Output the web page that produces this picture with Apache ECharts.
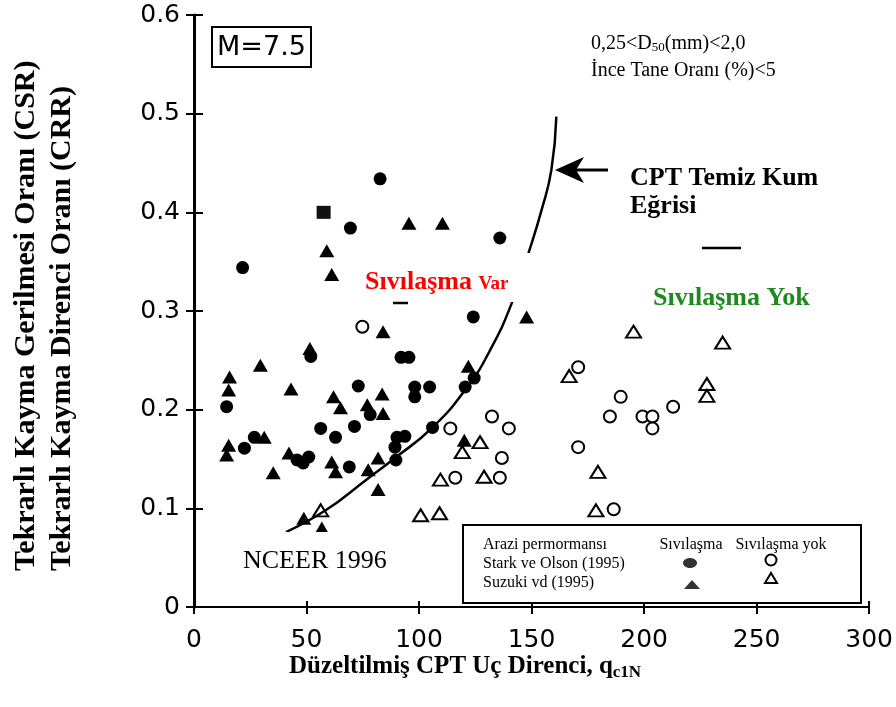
<!DOCTYPE html>
<html>
<head>
<meta charset="utf-8">
<script src="https://cdn.jsdelivr.net/npm/echarts@6/dist/echarts.min.js"></script>
<style>
  html, body { margin: 0; padding: 0; background: #fff; }
  #chart { width: 896px; height: 707px; }
</style>
</head>
<body>
<div id="chart"></div>
<script>
// Axis ticks
const xTicks = [0, 50, 100, 150, 200, 250, 300];
const yTickLabels = ['0', '0.1', '0.2', '0.3', '0.4', '0.5', '0.6'];

// Field performance: [q_c1N, CSR]
const starkLiquefied = [
  [82.7, 0.434], [69.5, 0.384], [135.9, 0.374], [21.6, 0.344], [124.1, 0.294],
  [51.9, 0.254], [92.0, 0.253], [95.5, 0.253], [14.5, 0.203], [73.0, 0.224],
  [98.1, 0.223], [104.7, 0.223], [98.1, 0.213], [78.3, 0.195], [56.3, 0.181],
  [62.9, 0.172], [71.3, 0.183], [124.5, 0.232], [120.5, 0.223], [106.0, 0.182],
  [90.2, 0.172], [93.7, 0.173], [89.3, 0.162], [89.7, 0.149], [69.0, 0.142],
  [45.8, 0.149], [51.0, 0.152], [48.5, 0.146], [22.4, 0.161], [26.8, 0.172]
];
const starkLiquefiedStacked = [[57.6, 0.400]];
const suzukiLiquefied = [
  [95.5, 0.389], [110.4, 0.389], [59.0, 0.361], [61.2, 0.337], [147.8, 0.294],
  [84.0, 0.279], [51.5, 0.262], [29.5, 0.245], [15.8, 0.233], [15.4, 0.220],
  [43.1, 0.221], [62.0, 0.213], [65.1, 0.202], [83.6, 0.216], [77.0, 0.205],
  [84.0, 0.196], [121.9, 0.244], [81.8, 0.151], [77.4, 0.139], [81.8, 0.119],
  [61.2, 0.147], [62.9, 0.137], [42.2, 0.156], [35.2, 0.136], [15.4, 0.164],
  [14.5, 0.154], [31.2, 0.172], [48.8, 0.090], [56.8, 0.080], [120.1, 0.169]
];
const starkNonLiquefied = [
  [74.8, 0.284], [132.4, 0.193], [139.9, 0.181], [113.9, 0.181], [136.8, 0.151],
  [116.1, 0.131], [135.9, 0.131], [170.7, 0.243], [189.6, 0.213], [184.8, 0.193],
  [199.3, 0.193], [203.7, 0.193], [203.7, 0.181], [212.9, 0.203], [170.7, 0.162],
  [186.5, 0.099]
];
const suzukiNonLiquefied = [
  [195.3, 0.279], [234.9, 0.268], [166.7, 0.234], [227.9, 0.226], [227.9, 0.214],
  [179.5, 0.137], [178.6, 0.098], [127.1, 0.167], [119.2, 0.157], [109.5, 0.129],
  [128.9, 0.132], [100.7, 0.093], [109.1, 0.095], [56.3, 0.098]
];

// CPT clean-sand base curve (NCEER 1996)
const nceerCurve = [
  [40.9, 0.076], [58.5, 0.098], [76.6, 0.129], [89.3, 0.151], [106.0, 0.182],
  [121.4, 0.223], [131.5, 0.260], [141.2, 0.308], [149.1, 0.362], [154.4, 0.402],
  [158.8, 0.443], [161.0, 0.497]
];

const chart = echarts.init(document.getElementById('chart'), null, { renderer: 'canvas' });

const SERIF = '"Liberation Serif", "Times New Roman", serif';
const SANS = '"DejaVu Sans", sans-serif';

const baseAxisX = { type: 'value', min: 0, max: 300, interval: 50, gridIndex: 0 };
const baseAxisY = { type: 'value', min: 0, max: 0.6, interval: 0.1, gridIndex: 0 };

const option = {
  backgroundColor: '#fff',
  animation: false,
  grid: { left: 194, right: 21, top: 15, bottom: 100 },
  xAxis: [
    Object.assign({}, baseAxisX, {
      position: 'bottom',
      axisLine: { lineStyle: { color: '#000', width: 2 } },
      axisTick: { show: true, length: 7, lineStyle: { color: '#000', width: 2 } },
      axisLabel: {
        color: '#000', fontFamily: SANS, fontSize: 25, margin: 21,
        customValues: xTicks,
        formatter: v => String(v)
      },
      splitLine: { show: false }
    }),
    Object.assign({}, baseAxisX, {
      position: 'bottom',
      axisLine: { show: false },
      axisTick: { show: true, inside: true, length: 6, lineStyle: { color: '#000', width: 2 } },
      axisLabel: { show: false },
      splitLine: { show: false }
    }),
    Object.assign({}, baseAxisX, {
      position: 'top',
      axisLine: { lineStyle: { color: '#000', width: 2 } },
      axisTick: { show: false },
      axisLabel: { show: false },
      splitLine: { show: false }
    })
  ],
  yAxis: [
    Object.assign({}, baseAxisY, {
      position: 'left',
      axisLine: { lineStyle: { color: '#000', width: 2 } },
      axisTick: { show: true, length: 8, lineStyle: { color: '#000', width: 2 } },
      axisLabel: {
        color: '#000', fontFamily: SANS, fontSize: 25, margin: 14,
        formatter: v => yTickLabels[Math.round(v * 10)]
      },
      splitLine: { show: false }
    }),
    Object.assign({}, baseAxisY, {
      position: 'left',
      axisLine: { show: false },
      axisTick: { show: true, inside: true, length: 9, lineStyle: { color: '#000', width: 2 } },
      axisLabel: { show: false },
      splitLine: { show: false }
    }),
    Object.assign({}, baseAxisY, {
      position: 'right',
      axisLine: { lineStyle: { color: '#000', width: 3 } },
      axisTick: { show: false },
      axisLabel: { show: false },
      splitLine: { show: false }
    })
  ],
  series: [
    {
      name: 'Stark ve Olson (1995) Sıvılaşma',
      type: 'scatter', symbol: 'circle', symbolSize: 13,
      itemStyle: { color: '#000', opacity: 1 },
      data: starkLiquefied, z: 3
    },
    {
      name: 'Stark ve Olson (1995) Sıvılaşma (üst üste)',
      type: 'scatter', symbol: 'rect', symbolSize: [14, 13],
      itemStyle: { color: '#111', opacity: 1 },
      data: starkLiquefiedStacked, z: 3
    },
    {
      name: 'Suzuki vd (1995) Sıvılaşma',
      type: 'scatter', symbol: 'triangle', symbolSize: [15, 13],
      itemStyle: { color: '#000', opacity: 1 },
      data: suzukiLiquefied, z: 3
    },
    {
      name: 'Stark ve Olson (1995) Sıvılaşma yok',
      type: 'scatter', symbol: 'emptyCircle', symbolSize: 12,
      itemStyle: { color: '#000', borderColor: '#000', borderWidth: 3, opacity: 1 },
      data: starkNonLiquefied, z: 3
    },
    {
      name: 'Suzuki vd (1995) Sıvılaşma yok',
      type: 'scatter', symbol: 'emptyTriangle', symbolSize: [15, 12],
      itemStyle: { color: '#000', borderColor: '#000', borderWidth: 3, opacity: 1 },
      data: suzukiNonLiquefied, z: 3
    },
    {
      name: 'CPT Temiz Kum Eğrisi',
      type: 'line', smooth: true, symbol: 'none',
      lineStyle: { color: '#000', width: 2.5 },
      data: nceerCurve, z: 4
    }
  ],
  graphic: [
    // M=7.5 box
    { type: 'rect', z: 100, shape: { x: 212, y: 27, width: 99, height: 40 },
      style: { fill: '#fff', stroke: '#000', lineWidth: 2 } },
    { type: 'text', z: 101, x: 261.5, y: 48,
      style: { text: 'M=7.5', font: '27px ' + SANS, fill: '#000', textAlign: 'center', textVerticalAlign: 'middle' } },

    // grain size notes
    { type: 'text', z: 101, x: 591, y: 44,
      style: {
        text: '{a|0,25<D}{s|50}{a|(mm)<2,0}',
        textVerticalAlign: 'middle',
        rich: {
          a: { font: '20px ' + SERIF, fill: '#000' },
          s: { font: '13px ' + SERIF, fill: '#000', padding: [8, 0, 0, 0] }
        }
      } },
    { type: 'text', z: 101, x: 591, y: 71,
      style: { text: 'İnce Tane Oranı (%)<5', font: '20px ' + SERIF, fill: '#000', textVerticalAlign: 'middle' } },

    // curve callout
    { type: 'line', z: 101, shape: { x1: 570, y1: 170, x2: 608, y2: 170 },
      style: { stroke: '#000', lineWidth: 3 } },
    { type: 'polygon', z: 101, shape: { points: [[555, 170], [584, 157], [576, 170], [584, 183]] },
      style: { fill: '#000' } },
    { type: 'text', z: 101, x: 630, y: 178,
      style: { text: 'CPT Temiz Kum', font: 'bold 26px ' + SERIF, fill: '#000', textVerticalAlign: 'middle' } },
    { type: 'text', z: 101, x: 630, y: 206,
      style: { text: 'Eğrisi', font: 'bold 26px ' + SERIF, fill: '#000', textVerticalAlign: 'middle' } },
    { type: 'line', z: 101, shape: { x1: 702, y1: 248, x2: 741, y2: 248 },
      style: { stroke: '#000', lineWidth: 2.5 } },

    // region labels
    { type: 'rect', z: 100, shape: { x: 343, y: 253, width: 197, height: 49 },
      style: { fill: '#fff' } },
    { type: 'text', z: 101, x: 365, y: 295,
      style: {
        text: '{a|Sıvılaşma }{b|Var}',
        textVerticalAlign: 'bottom',
        rich: {
          a: { font: 'bold 26px ' + SERIF, fill: '#ff0000' },
          b: { font: 'bold 19px ' + SERIF, fill: '#ff0000', padding: [5, 0, 0, 0] }
        }
      } },
    { type: 'line', z: 101, shape: { x1: 393, y1: 303, x2: 408, y2: 303 },
      style: { stroke: '#000', lineWidth: 2.5 } },
    { type: 'text', z: 101, x: 653, y: 298,
      style: { text: 'Sıvılaşma Yok', font: 'bold 26px ' + SERIF, fill: '#1e8a1e', textVerticalAlign: 'middle' } },

    // NCEER label
    { type: 'rect', z: 100, shape: { x: 225, y: 532, width: 236, height: 68 },
      style: { fill: '#fff' } },
    { type: 'text', z: 101, x: 243, y: 561,
      style: { text: 'NCEER 1996', font: '26px ' + SERIF, fill: '#000', textVerticalAlign: 'middle' } },

    // legend
    { type: 'rect', z: 100, shape: { x: 463, y: 525, width: 398, height: 78 },
      style: { fill: '#fff', stroke: '#000', lineWidth: 2 } },
    { type: 'text', z: 101, x: 483, y: 545,
      style: { text: 'Arazi permormansı', font: '16px ' + SERIF, fill: '#000', textVerticalAlign: 'middle' } },
    { type: 'text', z: 101, x: 483, y: 564,
      style: { text: 'Stark ve Olson (1995)', font: '16px ' + SERIF, fill: '#000', textVerticalAlign: 'middle' } },
    { type: 'text', z: 101, x: 483, y: 583,
      style: { text: 'Suzuki vd (1995)', font: '16px ' + SERIF, fill: '#000', textVerticalAlign: 'middle' } },
    { type: 'text', z: 101, x: 691, y: 545,
      style: { text: 'Sıvılaşma', font: '16px ' + SERIF, fill: '#000', textAlign: 'center', textVerticalAlign: 'middle' } },
    { type: 'text', z: 101, x: 781, y: 545,
      style: { text: 'Sıvılaşma yok', font: '16px ' + SERIF, fill: '#000', textAlign: 'center', textVerticalAlign: 'middle' } },
    { type: 'ellipse', z: 101, shape: { cx: 690, cy: 563, rx: 7, ry: 5 },
      style: { fill: '#333' } },
    { type: 'circle', z: 101, shape: { cx: 771, cy: 560, r: 5.5 },
      style: { fill: '#fff', stroke: '#000', lineWidth: 2 } },
    { type: 'polygon', z: 101, shape: { points: [[684, 589], [692, 580], [700, 589]] },
      style: { fill: '#333' } },
    { type: 'polygon', z: 101, shape: { points: [[765, 583], [771, 573], [777, 583]] },
      style: { fill: '#fff', stroke: '#000', lineWidth: 2 } },

    // axis titles
    { type: 'text', z: 101, x: 26, y: 571, rotation: Math.PI / 2,
      style: { text: 'Tekrarlı Kayma Gerilmesi Oranı (CSR)', font: 'bold 30px ' + SERIF, fill: '#000',
               textAlign: 'left', textVerticalAlign: 'middle' } },
    { type: 'text', z: 101, x: 62, y: 571, rotation: Math.PI / 2,
      style: { text: 'Tekrarlı Kayma Direnci Oranı (CRR)', font: 'bold 30px ' + SERIF, fill: '#000',
               textAlign: 'left', textVerticalAlign: 'middle' } },
    { type: 'text', z: 101, x: 289, y: 667,
      style: {
        text: '{a|Düzeltilmiş CPT Uç Direnci, q}{s|c1N}',
        textVerticalAlign: 'middle',
        rich: {
          a: { font: 'bold 25px ' + SERIF, fill: '#000' },
          s: { font: 'bold 17px ' + SERIF, fill: '#000', padding: [12, 0, 0, 0] }
        }
      } }
  ]
};

chart.setOption(option);
</script>
</body>
</html>
